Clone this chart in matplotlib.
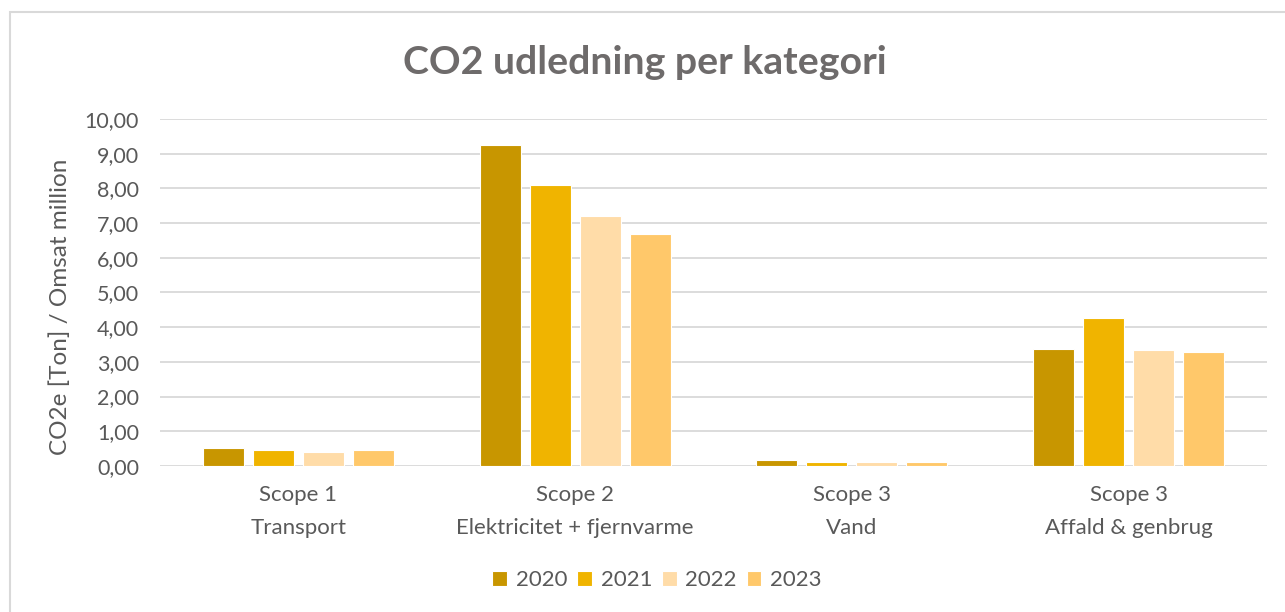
import numpy as np
import matplotlib.pyplot as plt
from matplotlib.patches import Rectangle

plt.rcParams['font.family'] = ['Lato', 'DejaVu Sans']

# data
categories = ["Scope 1\nTransport", "Scope 2\nElektricitet + fjernvarme",
              "Scope 3\nVand", "Scope 3\nAffald & genbrug"]
years = ["2020", "2021", "2022", "2023"]
v2020 = [0.53, 9.25, 0.16, 3.37]
v2021 = [0.46, 8.10, 0.12, 4.26]
v2022 = [0.41, 7.21, 0.12, 3.33]
v2023 = [0.46, 6.69, 0.12, 3.29]
colors = ["#C89600", "#F0B400", "#FFDCA8", "#FFC86A"]

series = [v2020, v2021, v2022, v2023]
txt = "#595959"

fig = plt.figure(figsize=(12.85, 6.12), dpi=100)
ax = fig.add_axes([0.1245, 0.2386, 0.8616, 0.567])

x = np.arange(len(categories))
step = 0.1807
for i, (vals, c, yr) in enumerate(zip(series, colors, years)):
    ax.bar(x + (i - 1.5) * step, vals, width=step * 0.82, color=c,
           edgecolor="white", linewidth=0.8, label=yr, zorder=3)

ax.set_xlim(-0.5, 3.5)
ax.set_ylim(0, 10)
ax.set_yticks(np.arange(0, 11, 1))
ax.set_yticklabels([f"{v:.2f}".replace(".", ",") for v in range(0, 11)])
ax.yaxis.grid(True, color="#D9D9D9", linewidth=1.3, zorder=0)
ax.set_xticks(x)
ax.set_xticklabels(categories, linespacing=1.8)
ax.tick_params(axis="y", length=0, labelsize=15.5, colors=txt, pad=15)
ax.tick_params(axis="x", length=0, labelsize=16, colors=txt, pad=14)
for s in ax.spines.values():
    s.set_visible(False)

ax.set_ylabel("CO2e [Ton] / Omsat million", fontsize=17.5, color=txt)
ax.yaxis.set_label_coords(-0.080, 0.458)

fig.text(0.502, 0.898, "CO2 udledning per kategori", ha="center", va="center",
         fontsize=28.3, fontweight="bold", color="#6E6B6B")

ax.legend(loc="center", bbox_to_anchor=(0.449, -0.33), ncol=4, frameon=False,
          fontsize=16, labelcolor=txt, handlelength=0.65, handleheight=0.65,
          handletextpad=0.4, columnspacing=0.45)

fig.add_artist(Rectangle((0.008, -0.01), 1.1, 0.99, transform=fig.transFigure,
                         fill=False, edgecolor="#D9D9D9", linewidth=1.5))

fig.savefig("out.png", dpi=100)
